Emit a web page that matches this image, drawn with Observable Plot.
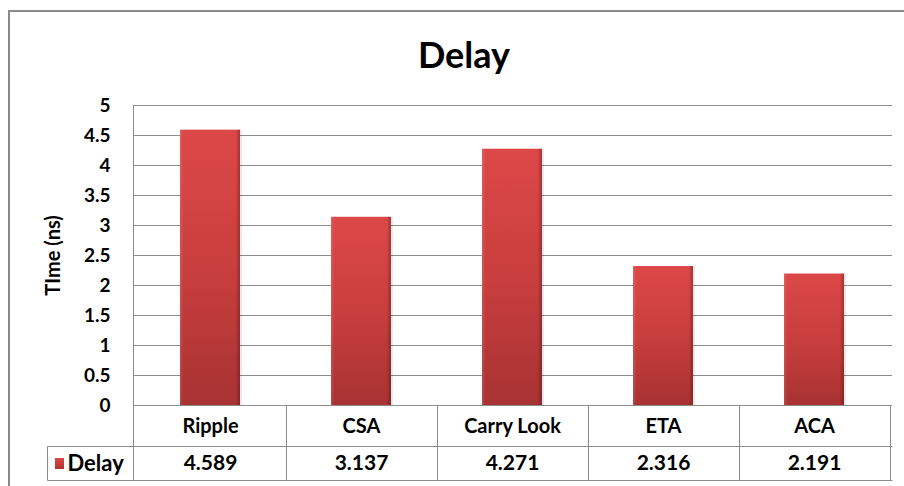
<!DOCTYPE html>
<html>
<head>
<meta charset="utf-8">
<script src="https://cdn.jsdelivr.net/npm/d3@7"></script>
<script src="https://cdn.jsdelivr.net/npm/@observablehq/plot@0.6"></script>
<style>
  html, body { margin: 0; padding: 0; background: #fff; }
  #wrap { position: relative; width: 904px; height: 486px; overflow: hidden; background: #fff; }
  #frame { position: absolute; left: 8px; top: 10px; width: 1200px; height: 1200px;
           border: 2px solid #8a8a8a; box-sizing: border-box; pointer-events: none; }
  #title { position: absolute; top: 32px; left: 0; width: 928px; text-align: center;
           font: bold 36px/44px Lato, "Open Sans", sans-serif; color: #000; }
  #chart { position: absolute; left: 0; top: 90px; }
</style>
</head>
<body>
<div id="wrap">
  <div id="frame"></div>
  <div id="title"></div>
  <div id="chart"></div>
</div>
<script>
// Adder delay comparison
const chartTitle = "Delay";
const seriesName = "Delay";
const yLabel = "TIme (ns)";
const categories = ["Ripple", "CSA", "Carry Look", "ETA", "ACA"];
const delays = [4.589, 3.137, 4.271, 2.316, 2.191];
const yTicks = [0, 0.5, 1, 1.5, 2, 2.5, 3, 3.5, 4, 4.5, 5];

const rows = categories.map((category, i) => ({category, delay: delays[i]}));
const lineColor = "#8c8c8c";

document.getElementById("title").textContent = chartTitle;

// Gradients for the bevelled red bars
function gradients() {
  const defs = d3.create("svg:defs");
  const v = defs.append("linearGradient").attr("id", "barFill")
    .attr("x1", 0).attr("y1", 0).attr("x2", 0).attr("y2", 1);
  v.append("stop").attr("offset", "0%").attr("stop-color", "#dc4848");
  v.append("stop").attr("offset", "50%").attr("stop-color", "#c93e3e");
  v.append("stop").attr("offset", "100%").attr("stop-color", "#a83232");
  const h = defs.append("linearGradient").attr("id", "barEdge")
    .attr("x1", 0).attr("y1", 0).attr("x2", 1).attr("y2", 0);
  h.append("stop").attr("offset", "0%").attr("stop-color", "#fff").attr("stop-opacity", 0.12);
  h.append("stop").attr("offset", "6%").attr("stop-color", "#fff").attr("stop-opacity", 0);
  h.append("stop").attr("offset", "93%").attr("stop-color", "#000").attr("stop-opacity", 0);
  h.append("stop").attr("offset", "100%").attr("stop-color", "#3a0000").attr("stop-opacity", 0.3);
  return defs.node();
}

// Data table under the plot: cell borders, left plot edge and legend swatch
function dataTable(index, scales, values, dims) {
  const x = scales.x, y = scales.y;
  const half = x.step() / 2;
  const base = dims.height - dims.marginBottom;
  const r1 = base + 41, r2 = base + 75;
  const left = dims.marginLeft, right = dims.width - dims.marginRight;
  const legendLeft = left - 86;
  const px = v => Math.round(v) + 0.5;
  const g = d3.create("svg:g");
  const lines = g.append("g").attr("stroke", lineColor).attr("fill", "none");
  const line = (x1, y1, x2, y2) => lines.append("line")
    .attr("x1", px(x1)).attr("y1", px(y1)).attr("x2", px(x2)).attr("y2", px(y2));
  line(left, y(yTicks[yTicks.length - 1]), left, r2);
  for (const c of categories) {
    const xr = x(c) + x.bandwidth() / 2 + half;
    line(xr, base, xr, r2);
  }
  line(legendLeft, r1, right, r1);
  line(legendLeft, r2, right, r2);
  line(legendLeft, r1, legendLeft, r2);
  g.append("rect")
    .attr("x", left - 78).attr("y", r1 + 12)
    .attr("width", 9).attr("height", 11)
    .attr("fill", "url(#barFill)");
  return g.node();
}

const chart = Plot.plot({
  width: 904,
  height: 396,
  marginLeft: 133,
  marginRight: 12,
  marginTop: 15,
  marginBottom: 81,
  style: {
    fontFamily: "Lato, 'Open Sans', sans-serif",
    fontSize: "19px",
    fontWeight: "bold",
    color: "#000",
    background: "transparent",
    overflow: "visible"
  },
  x: {domain: categories, paddingInner: 0.6, paddingOuter: 0.3, axis: null},
  y: {domain: [0, 5], ticks: yTicks, tickSize: 0, tickPadding: 23, tickFormat: d => String(d), label: null},
  marks: [
    gradients,
    Plot.ruleY(yTicks, {stroke: lineColor, strokeWidth: 1}),
    Plot.barY(rows, {x: "category", y: "delay", fill: "#000", fillOpacity: 0.08, dx: 2}),
    Plot.barY(rows, {x: "category", y: "delay", fill: "url(#barFill)"}),
    Plot.barY(rows, {x: "category", y: "delay", fill: "url(#barEdge)"}),
    dataTable,
    Plot.text(rows, {x: "category", text: "category", frameAnchor: "bottom", dy: 21,
                     lineAnchor: "middle", fontSize: 20, fontWeight: "bold"}),
    Plot.text(rows, {x: "category", text: d => String(d.delay), frameAnchor: "bottom", dy: 58,
                     lineAnchor: "middle", fontSize: 21, fontWeight: "bold"}),
    Plot.text([seriesName], {frameAnchor: "bottom-left", dx: -66, dy: 58, textAnchor: "start",
                     lineAnchor: "middle", fontSize: 22, fontWeight: "bold"}),
    Plot.text([yLabel], {frameAnchor: "left", dx: -80, rotate: -90, textAnchor: "middle",
                     lineAnchor: "middle", fontSize: 20, fontWeight: "bold"})
  ]
});

document.getElementById("chart").appendChild(chart);
</script>
</body>
</html>
